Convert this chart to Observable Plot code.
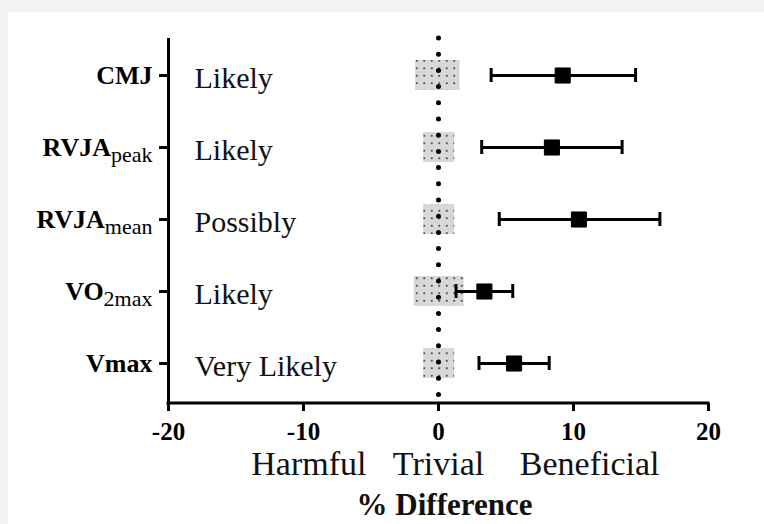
<!DOCTYPE html>
<html>
<head>
<meta charset="utf-8">
<script src="https://cdn.jsdelivr.net/npm/d3@7"></script>
<script src="https://cdn.jsdelivr.net/npm/@observablehq/plot@0.6"></script>
<style>
  html, body { margin: 0; padding: 0; background: #f2f2f2; width: 764px; height: 524px; overflow: hidden; }
  #chart { position: absolute; left: 8px; top: 12px; width: 756px; height: 512px; background: #fff; }
  #chart svg { display: block; background: #fff; }
</style>
</head>
<body>
<div id="chart"></div>
<script>
// ---- data ----
const measures    = ["CMJ", "RVJApeak", "RVJAmean", "VO2max", "Vmax"];
const labelBase   = ["CMJ", "RVJA", "RVJA", "VO", "Vmax"];
const labelSub    = ["", "peak", "mean", "2max", ""];
const likelihood  = ["Likely", "Likely", "Possibly", "Likely", "Very Likely"];
const effect      = [9.2, 8.4, 10.4, 3.4, 5.6];
const ciLower     = [3.9, 3.2, 4.5, 1.3, 3.0];
const ciUpper     = [14.6, 13.6, 16.4, 5.5, 8.2];
const trivialLow  = [-1.7, -1.1, -1.1, -1.8, -1.1];
const trivialHigh = [1.6, 1.2, 1.2, 1.9, 1.2];
const xTicks      = [-20, -10, 0, 10, 20];
const zoneLabels  = ["Harmful", "Trivial", "Beneficial"];
const zoneCenters = [-9.6, 0, 11.2];
const xTitle      = "% Difference";

const rows = measures.map((m, i) => ({
  measure: m, qual: likelihood[i], effect: effect[i],
  lo: ciLower[i], hi: ciUpper[i], tlo: trivialLow[i], thi: trivialHigh[i]
}));
const zones = zoneLabels.map((z, i) => ({label: z, x: zoneCenters[i]}));

const serif = "'Liberation Serif', 'Times New Roman', serif";

const svg = Plot.plot({
  width: 756,
  height: 512,
  marginLeft: 160,
  marginRight: 56,
  marginTop: 26,
  marginBottom: 121,
  style: {fontFamily: serif, color: "#000", background: "#fff", overflow: "visible"},
  x: {domain: [-20, 20]},
  y: {domain: measures, range: [25, 388], padding: 0},
  marks: [
    Plot.rect(rows, {x1: "tlo", x2: "thi", y: "measure", insetTop: 21, insetBottom: 21, fill: "url(#trivdots)"}),
    Plot.ruleX([0], {stroke: "#000", strokeWidth: 5, strokeDasharray: "0 16.2", strokeLinecap: "round"}),
    Plot.ruleY(rows, {y: "measure", x1: "lo", x2: "hi", stroke: "#000", strokeWidth: 3}),
    Plot.tickX(rows, {x: "lo", y: "measure", insetTop: 29, insetBottom: 29, stroke: "#000", strokeWidth: 3}),
    Plot.tickX(rows, {x: "hi", y: "measure", insetTop: 29, insetBottom: 29, stroke: "#000", strokeWidth: 3}),
    Plot.dot(rows, {x: "effect", y: "measure", symbol: "square", r: 8.5, fill: "#000", stroke: "#000", strokeWidth: 1, strokeLinejoin: "round"}),
    Plot.text(rows, {y: "measure", text: "qual", frameAnchor: "left", textAnchor: "start", dx: 26, dy: 3, fontSize: 30, fill: "#111"}),
    Plot.axisX({ticks: xTicks, tickSize: 8, tickPadding: 11, tickFormat: d => String(d), fontSize: 25, fontWeight: "bold", strokeWidth: 3, label: null}),
    Plot.axisY({tickSize: 9, tickPadding: 7, fontSize: 26, fontWeight: "bold", strokeWidth: 3, label: null}),
    Plot.ruleX([-20], {stroke: "#000", strokeWidth: 3}),
    Plot.text(zones, {x: "x", text: "label", frameAnchor: "bottom", lineAnchor: "top", dy: 47, fontSize: 34, fill: "#111"}),
    Plot.text([xTitle], {text: d => d, frameAnchor: "bottom", lineAnchor: "top", dy: 89, dx: 6, fontSize: 31, fontWeight: "bold", fill: "#111"})
  ]
});

// x-axis baseline along frame bottom
const ns = "http://www.w3.org/2000/svg";
{
  const line = document.createElementNS(ns, "line");
  line.setAttribute("x1", 160 - 1.5); line.setAttribute("x2", 700 + 1.5);
  line.setAttribute("y1", 391); line.setAttribute("y2", 391);
  line.setAttribute("stroke", "#000"); line.setAttribute("stroke-width", 3);
  svg.appendChild(line);
}

// pattern for trivial boxes
const defs = document.createElementNS(ns, "defs");
defs.innerHTML = `<pattern id="trivdots" patternUnits="userSpaceOnUse" width="7.5" height="7.5">
  <rect width="7.5" height="7.5" fill="#d8d8d8"/>
  <circle cx="3.75" cy="3.75" r="1" fill="#333"/>
</pattern>`;
svg.insertBefore(defs, svg.firstChild);

// rich y tick labels with subscripts
svg.querySelectorAll('g[aria-label="y-axis tick label"] text').forEach(t => {
  const i = measures.indexOf(t.textContent);
  if (i < 0) return;
  t.textContent = "";
  const b = document.createElementNS(ns, "tspan");
  b.textContent = labelBase[i];
  t.appendChild(b);
  if (labelSub[i]) {
    const s = document.createElementNS(ns, "tspan");
    s.textContent = labelSub[i];
    s.setAttribute("font-weight", "normal");
    s.setAttribute("font-size", 22);
    s.setAttribute("dy", "6");
    t.appendChild(s);
  }
});

document.getElementById("chart").appendChild(svg);
</script>
</body>
</html>
